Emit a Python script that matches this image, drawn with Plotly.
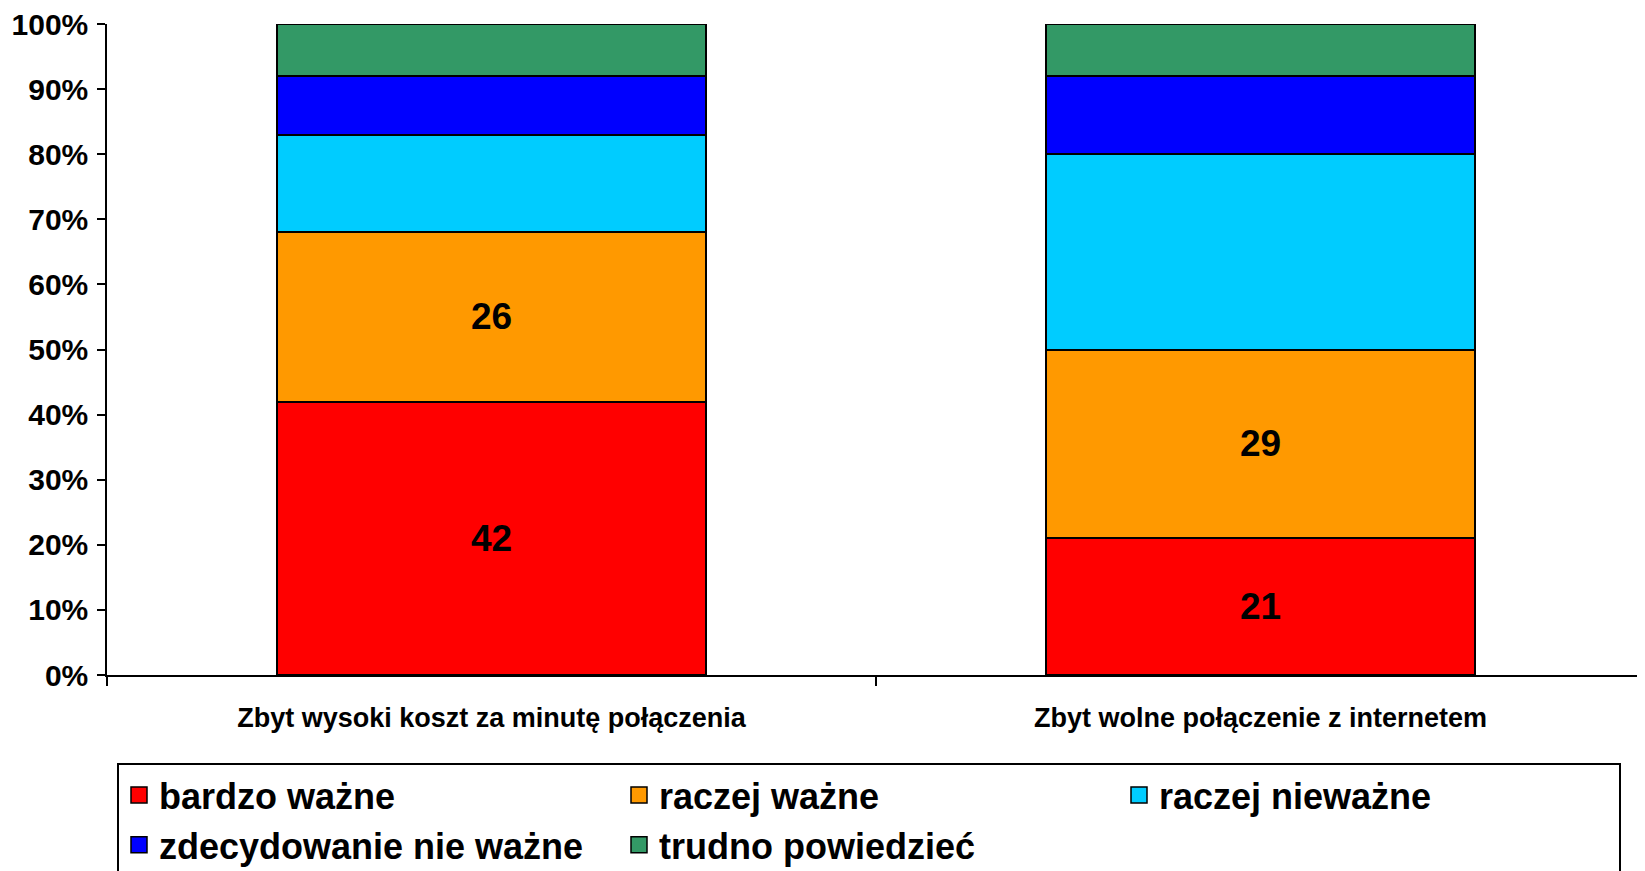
import plotly.graph_objects as go

# ── Data ───────────────────────────────────────
categories = ['Zbyt wysoki koszt za minutę połączenia',
              'Zbyt wolne połączenie z internetem']

series_names = ['bardzo ważne', 'raczej ważne', 'raczej nieważne',
                'zdecydowanie nie ważne', 'trudno powiedzieć']

bardzo_wazne = [42, 21]
raczej_wazne = [26, 29]
raczej_niewazne = [15, 30]
zdecydowanie_nie = [9, 12]
trudno_powiedziec = [8, 8]

# only the first two series carry value labels in the original
labelled = [True, True, False, False, False]

colors = ['#FF0000', '#FF9900', '#00CCFF', '#0000FF', '#339966']

FONT = 'Liberation Sans, Arial, sans-serif'

# the page body adds an 8px offset, so layout positions are shifted by it
OFF = 8
W, H = 1645, 871

fig = go.Figure()

all_values = [bardzo_wazne, raczej_wazne, raczej_niewazne,
              zdecydowanie_nie, trudno_powiedziec]

for name, vals, col, lab in zip(series_names, all_values, colors, labelled):
    fig.add_trace(go.Bar(
        x=categories, y=vals, name=name,
        marker=dict(color=col, line=dict(color='black', width=2)),
        text=[str(v) for v in vals] if lab else None,
        textposition='inside' if lab else 'none',
        insidetextanchor='middle',
        textangle=0,
        constraintext='none',
        textfont=dict(family=FONT, size=37, color='black', weight='bold'),
        legendgroup=name,
        showlegend=False,
        hoverinfo='skip',
    ))

# legend swatches (bigger squares than the bar default)
for name, col in zip(series_names, colors):
    fig.add_trace(go.Scatter(
        x=[None], y=[None], mode='markers', name=name,
        legendgroup=name,
        marker=dict(symbol='square', size=16, color=col,
                    line=dict(color='black', width=1.5)),
    ))

fig.update_layout(
    width=W, height=H,
    barmode='stack',
    bargap=0.443,
    paper_bgcolor='white',
    plot_bgcolor='white',
    margin=dict(l=107 - OFF, r=OFF, t=24 - OFF, b=H - 675 + OFF),
    font=dict(family=FONT, color='black'),
    legend=dict(
        orientation='h',
        xref='container', yref='container',
        x=(117 - OFF) / W, xanchor='left',
        y=1 - (763 - OFF) / H, yanchor='top',
        bordercolor='black', borderwidth=2,
        bgcolor='white',
        entrywidth=455,
        font=dict(family=FONT, size=36, color='black', weight='bold'),
        traceorder='normal',
        itemclick=False, itemdoubleclick=False,
    ),
    xaxis=dict(
        showline=True, linecolor='black', linewidth=1.5,
        ticks='outside', ticklen=9, tickwidth=1.5, tickcolor='black',
        tickson='boundaries',
        showgrid=False,
        automargin=False,
        tickfont=dict(family=FONT, size=27, color='black', weight='bold'),
        ticklabelstandoff=18,
    ),
    yaxis=dict(
        range=[0, 100],
        tickmode='linear', tick0=0, dtick=10,
        ticksuffix='%',
        showline=True, linecolor='black', linewidth=1.5,
        ticks='outside', ticklen=8, tickwidth=1.5, tickcolor='black',
        showgrid=False, zeroline=False,
        automargin=False,
        tickfont=dict(family=FONT, size=30, color='black', weight='bold'),
        ticklabelstandoff=3,
        ticklabeloverflow='allow',
    ),
)

fig.write_html("out.html")
